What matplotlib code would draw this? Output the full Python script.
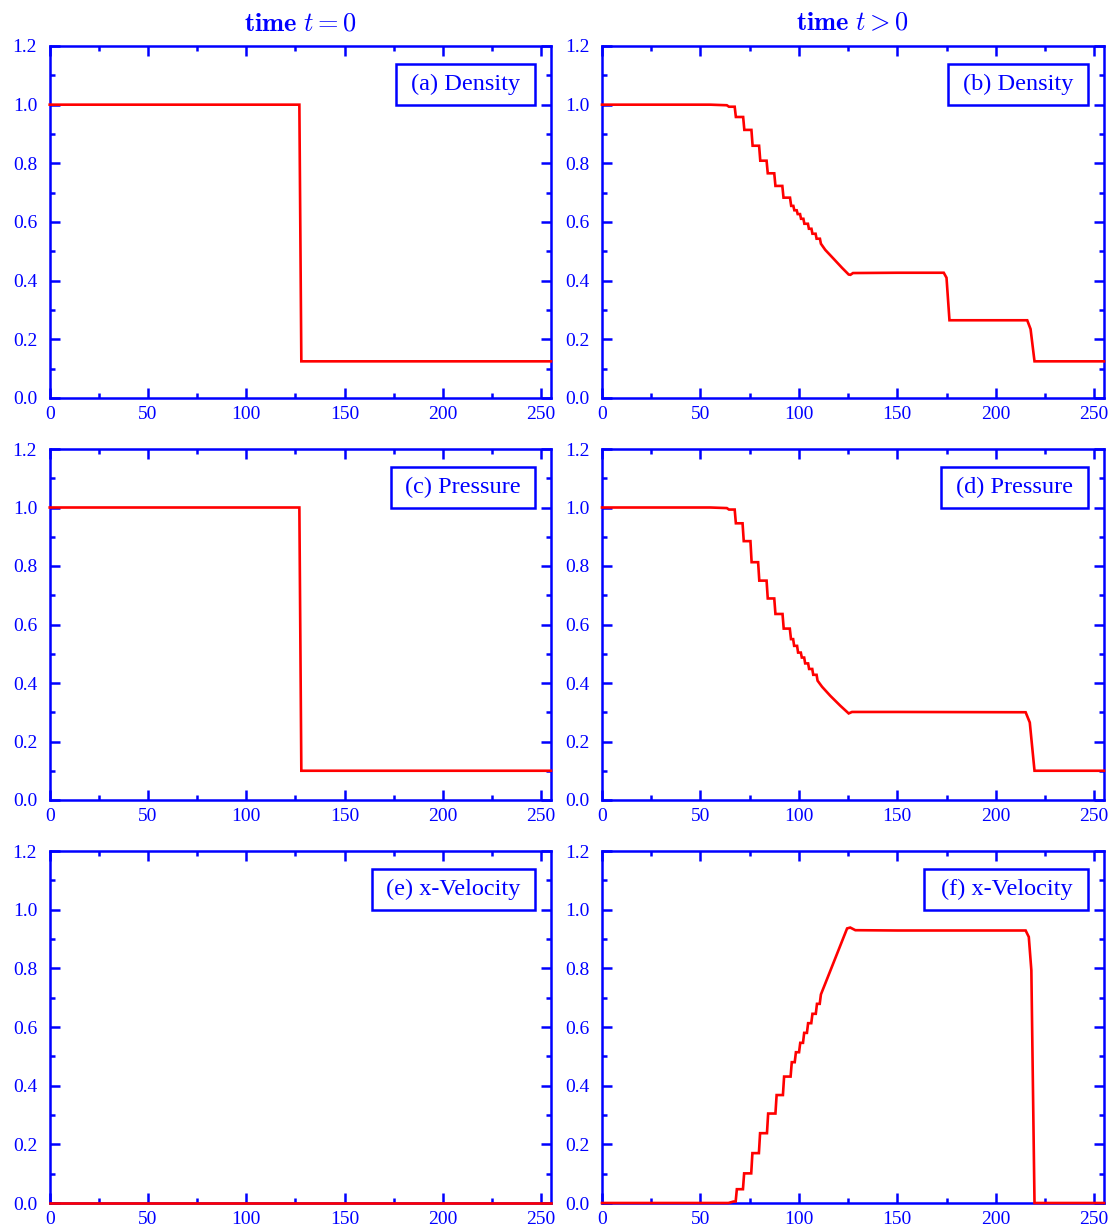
import matplotlib
matplotlib.use("Agg")
import matplotlib.pyplot as plt
from matplotlib.ticker import MultipleLocator
from matplotlib.patches import Rectangle

plt.rcParams['font.family'] = 'serif'
plt.rcParams['font.serif'] = ['Liberation Serif', 'DejaVu Serif']
plt.rcParams['mathtext.fontset'] = 'cm'

BLUE = '#0000ff'
RED = '#ff0000'

# ---------------- data ----------------
x_t0 = [0, 127, 128, 255]
density_t0 = [1.0, 1.0, 0.125, 0.125]
pressure_t0 = [1.0, 1.0, 0.1, 0.1]
x_vel_t0 = [0, 255]
velocity_t0 = [0.0, 0.0]

x_density_t1 = [0, 55, 63.4, 64.5, 67.4, 68.0, 71.7, 72.3, 75.9, 76.5,
                79.8, 80.4, 83.6, 84.2, 87.5, 88.1, 91.6, 92.2, 95.5, 96.1,
                97.2, 97.7, 98.9, 99.4, 100.6, 101.1, 102.3, 102.8, 104.6, 105.1,
                106.4, 106.9, 108.5, 109.0, 110.7, 111.2, 113.4, 117.6, 121.9, 125.3,
                126.2, 127.5, 150, 173.6, 175.0, 176.5, 216.0, 217.7, 219.7, 255]
density_t1 = [1.0, 1.0, 0.998, 0.993, 0.993, 0.958, 0.958, 0.914, 0.914, 0.860,
              0.860, 0.809, 0.809, 0.766, 0.766, 0.723, 0.723, 0.683, 0.683, 0.655,
              0.655, 0.640, 0.640, 0.627, 0.627, 0.611, 0.611, 0.594, 0.594, 0.577,
              0.577, 0.560, 0.560, 0.543, 0.543, 0.526, 0.505, 0.475, 0.444, 0.421,
              0.420, 0.426, 0.427, 0.427, 0.410, 0.265, 0.265, 0.235, 0.125, 0.125]

x_pressure_t1 = [0, 55, 63.4, 64.5, 67.4, 68.0, 71.4, 72.0, 75.4, 76.0,
                 79.3, 79.9, 83.6, 84.2, 87.5, 88.1, 91.7, 92.3, 95.4, 96.0,
                 97.1, 97.6, 99.1, 99.6, 101.0, 101.5, 102.7, 103.2, 104.7, 105.2,
                 106.8, 107.3, 109.0, 109.5, 111.8, 116.0, 121.1, 125.3, 127.0, 150,
                 215.2, 217.3, 219.7, 255]
pressure_t1 = [1.0, 1.0, 0.998, 0.993, 0.993, 0.946, 0.946, 0.885, 0.885, 0.813,
               0.813, 0.750, 0.750, 0.689, 0.689, 0.636, 0.636, 0.586, 0.586, 0.550,
               0.550, 0.527, 0.527, 0.504, 0.504, 0.487, 0.487, 0.467, 0.467, 0.448,
               0.448, 0.428, 0.428, 0.408, 0.387, 0.356, 0.322, 0.296, 0.301, 0.301,
               0.300, 0.265, 0.100, 0.100]

x_velocity_t1 = [0, 64.2, 66.8, 67.9, 68.5, 71.6, 72.2, 75.8, 76.4, 79.7,
                 80.3, 83.8, 84.4, 88.1, 88.7, 91.9, 92.5, 95.8, 96.4, 97.9,
                 98.5, 100.1, 100.7, 102.1, 102.7, 104.1, 104.7, 106.3, 106.9, 108.6,
                 109.2, 110.6, 111.2, 113.4, 124.5, 126.1, 128.7, 150, 215.2, 216.8,
                 218.1, 219.7, 255]
velocity_t1 = [0.0, 0.0, 0.005, 0.005, 0.047, 0.047, 0.101, 0.101, 0.170, 0.170,
               0.238, 0.238, 0.305, 0.305, 0.368, 0.368, 0.431, 0.431, 0.480, 0.480,
               0.514, 0.514, 0.546, 0.546, 0.580, 0.580, 0.613, 0.613, 0.645, 0.645,
               0.679, 0.679, 0.711, 0.748, 0.936, 0.939, 0.930, 0.929, 0.929, 0.907,
               0.793, 0.0, 0.0]

labels = ['(a) Density', '(b) Density', '(c) Pressure', '(d) Pressure',
          '(e) x-Velocity', '(f) x-Velocity']
titles = [r'$\mathbf{time}\ t = 0$', r'$\mathbf{time}\ t > 0$']
x_tick_labels = ['0', '50', '100', '150', '200', '250']
y_tick_labels = ['0.0', '0.2', '0.4', '0.6', '0.8', '1.0', '1.2']

series = [(x_t0, density_t0), (x_density_t1, density_t1),
          (x_t0, pressure_t0), (x_pressure_t1, pressure_t1),
          (x_vel_t0, velocity_t0), (x_velocity_t1, velocity_t1)]

# ---------------- layout ----------------
W, H = 1112, 1232
fig = plt.figure(figsize=(W / 100, H / 100), dpi=100)
col_px = [(49.7, 551.0), (602.0, 1104.0)]
row_px = [(46.0, 398.0), (449.0, 800.0), (851.0, 1203.0)]
box_w = [0.279, 0.279, 0.289, 0.294, 0.327, 0.327]

axes = []
for r in range(3):
    for c in range(2):
        x0, x1 = col_px[c]
        y0, y1 = row_px[r]
        ax = fig.add_axes([x0 / W, (H - y1) / H, (x1 - x0) / W, (y1 - y0) / H])
        axes.append(ax)

for i, ax in enumerate(axes):
    xs, ys = series[i]
    ax.plot(xs, ys, color=RED, lw=1.9, clip_on=False, zorder=5,
            solid_joinstyle='miter')
    ax.set_xlim(0, 255)
    ax.set_ylim(0, 1.2)
    ax.set_xticks([0, 50, 100, 150, 200, 250])
    ax.set_xticklabels(x_tick_labels)
    ax.set_yticks([0, 0.2, 0.4, 0.6, 0.8, 1.0, 1.2])
    ax.set_yticklabels(y_tick_labels)
    ax.xaxis.set_minor_locator(MultipleLocator(25))
    ax.yaxis.set_minor_locator(MultipleLocator(0.1))
    for sp in ax.spines.values():
        sp.set_color(BLUE)
        sp.set_linewidth(1.8)
    ax.tick_params(which='both', direction='in', top=True, right=True,
                   color=BLUE, labelcolor=BLUE, width=1.8, labelsize=14)
    ax.tick_params(which='major', length=7, pad=9)
    ax.tick_params(axis='x', which='major', pad=6)
    ax.tick_params(which='minor', length=3.5)
    tw = box_w[i]
    ax.add_patch(Rectangle((0.969 - tw, 0.832), tw, 0.118,
                           transform=ax.transAxes, fill=True, fc='white',
                           ec=BLUE, lw=1.8, zorder=6))
    ax.text(0.969 - tw / 2, 0.891, labels[i], transform=ax.transAxes,
            ha='center', va='center', fontsize=17.5, color=BLUE, zorder=7)
    if i < 2:
        ax.set_title(titles[i], color=BLUE, fontsize=19, pad=11)

fig.savefig('out.png', dpi=100)
